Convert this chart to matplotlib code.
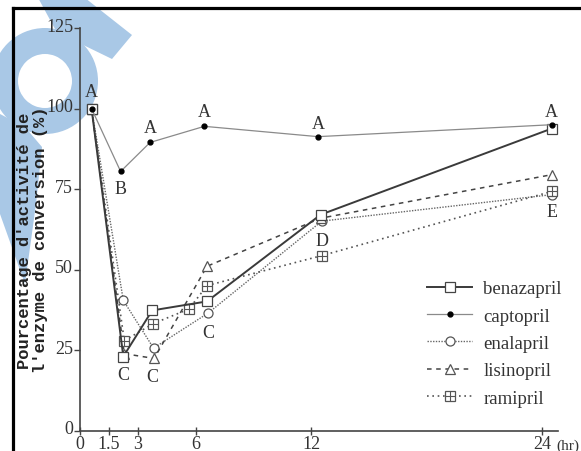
import matplotlib
matplotlib.use("Agg")
import matplotlib.pyplot as plt
import matplotlib.transforms as mtransforms
from matplotlib.patches import Wedge, Polygon
from matplotlib.lines import Line2D

# ---- data ----
x_ticks = [0, 1.5, 3, 6, 12, 24]
x_tick_labels = ["0", "1.5", "3", "6", "12", "24"]
y_ticks = [0, 25, 50, 75, 100, 125]
y_tick_labels = ["0", "25", "50", "75", "100", "125"]

t_benazapril = [0.6, 2.25, 3.75, 6.6, 12.5, 24.5]
v_benazapril = [100, 23.1, 37.4, 40.2, 67.1, 93.8]

t_captopril = [0.6, 2.11, 3.64, 6.46, 12.36, 24.5]
v_captopril = [100, 80.5, 89.5, 94.5, 91.3, 95.0]

t_enalapril = [0.6, 2.25, 3.82, 6.66, 12.56, 24.5]
v_enalapril = [100, 40.5, 25.7, 36.6, 65.1, 73.3]

t_lisinopril = [0.6, 2.3, 3.85, 6.6, 12.5, 24.5]
v_lisinopril = [100, 24.0, 22.5, 51.1, 66.0, 79.5]

t_ramipril = [0.6, 2.3, 3.8, 5.65, 6.6, 12.56, 24.5]
v_ramipril = [100, 28.0, 33.3, 37.8, 45.1, 54.4, 74.3]

letters = ["A", "B", "A", "A", "A", "A", "C", "C", "C", "D", "E"]
letter_t = [0.6, 2.11, 3.64, 6.46, 12.36, 24.5, 2.25, 3.75, 6.66, 12.56, 24.5]
letter_v = [105.3, 75.3, 94.0, 99.0, 95.5, 99.2, 17.6, 16.8, 30.5, 59.1, 68.0]

W, H = 581, 452
fig = plt.figure(figsize=(W / 100, H / 100), dpi=100)
pix = mtransforms.Affine2D().scale(1 / W, -1 / H).translate(0, 1) + fig.transFigure

# ---- watermark (light blue logo) ----
wm = "#a9c8e6"
fig.patches.append(Wedge((45, 82), 53, 0, 360, width=26, transform=pix,
                         facecolor=wm, edgecolor="none", zorder=-2))
fig.patches.append(Polygon([(36, -5), (80, -5), (132, 36), (112, 60), (75, 42), (55, 30)],
                           closed=True, transform=pix, facecolor=wm, edgecolor="none", zorder=-2))
fig.patches.append(Polygon([(0, 115), (25, 128), (42, 148), (36, 205), (25, 285), (0, 215)],
                           closed=True, transform=pix, facecolor=wm, edgecolor="none", zorder=-2))

# ---- black frame (partly cropped) ----
fig.add_artist(Line2D([12.5, 12.5], [460, 8.5], transform=pix, color="black", lw=2.3,
                      solid_capstyle="projecting"))
fig.add_artist(Line2D([12.5, 590], [8.5, 8.5], transform=pix, color="black", lw=2.3,
                      solid_capstyle="projecting"))

ax = fig.add_axes([80 / W, (H - 432) / H, 478 / W, 403 / H])
ax.patch.set_visible(False)
ax.set_xlim(0, 24.83)
ax.set_ylim(0, 125)

dark = "#333333"
serif = "Liberation Serif"

ax.plot(t_benazapril, v_benazapril, color="#3a3a3a", lw=1.4, ls="-", marker="s", ms=7,
        mfc="white", mec="#444444", mew=0.9, label="benazapril", clip_on=False, zorder=4)
ax.plot(t_captopril, v_captopril, color="#8a8a8a", lw=0.9, ls="-", marker="o", ms=3.5,
        mfc="black", mec="black", label="captopril", clip_on=False, zorder=5)
ax.plot(t_enalapril, v_enalapril, color="#666666", lw=1.0, ls=(0, (1, 1)), marker="o", ms=6.5,
        mfc="white", mec="#555555", mew=0.9, label="enalapril", clip_on=False, zorder=3)
ax.plot(t_lisinopril, v_lisinopril, color="#444444", lw=1.1, ls=(0, (3, 3)), marker="^", ms=6.5,
        mfc="white", mec="#555555", mew=0.9, label="lisinopril", clip_on=False, zorder=3)
ax.plot(t_ramipril, v_ramipril, color="#555555", lw=1.2, ls=(0, (1, 2.2)), marker="s", ms=6.5,
        mfc="white", mec="#555555", mew=0.9, label="ramipril", clip_on=False, zorder=3)
ax.plot(t_ramipril, v_ramipril, ls="none", marker="+", ms=6.5, mec="#555555", mew=0.8,
        clip_on=False, zorder=3.5)

for s, tx, vy in zip(letters, letter_t, letter_v):
    ax.text(tx, vy, s, ha="center", va="center", fontsize=13, family=serif, color=dark)

# ---- axes styling ----
for side in ("top", "right"):
    ax.spines[side].set_visible(False)
for side in ("left", "bottom"):
    ax.spines[side].set_color("#444444")
    ax.spines[side].set_linewidth(1.2)

ax.set_xticks(x_ticks)
ax.set_xticklabels(x_tick_labels, family=serif, fontsize=13, color=dark)
ax.set_yticks(y_ticks)
ax.set_yticklabels(y_tick_labels, family=serif, fontsize=13, color=dark)
ax.tick_params(axis="x", direction="inout", length=6, width=1, color="#444444", pad=0)
ax.tick_params(axis="y", direction="out", length=4, width=1, color="#444444", pad=1)
raise_t = mtransforms.ScaledTranslation(0, 4 / 100, fig.dpi_scale_trans)
for lab in ax.get_yticklabels():
    lab.set_transform(lab.get_transform() + raise_t)

fig.text(556 / W, 1 - 446 / H, "(hr)", ha="left", va="center", fontsize=11,
         family=serif, color=dark)

# ---- y label (two lines) ----
fig.text(25 / W, 1 - 241 / H, "Pourcentage d'activité de", rotation=90, ha="center",
         va="center", fontsize=12.3, family="Liberation Mono", fontweight="bold", color="#222222")
fig.text(41 / W, 1 - 240 / H, "l'enzyme de conversion (%)", rotation=90, ha="center",
         va="center", fontsize=12.3, family="Liberation Mono", fontweight="bold", color="#222222")

# ---- legend ----
h_ram_sq = Line2D([], [], color="#555555", lw=1.2, ls=(0, (1, 2.2)), marker="s", ms=6.5,
                  mfc="white", mec="#555555", mew=0.9)
h_ram_pl = Line2D([], [], ls="none", marker="+", ms=6.5, mec="#555555", mew=0.8)
handles, labels = ax.get_legend_handles_labels()
handles[4] = (h_ram_sq, h_ram_pl)
leg = ax.legend(handles, labels, loc="upper left",
                bbox_to_anchor=(427 / W, 1 - 281 / H), bbox_transform=fig.transFigure,
                frameon=False, borderpad=0, borderaxespad=0, handlelength=2.4,
                handletextpad=0.6, labelspacing=0.55, prop={"family": serif, "size": 13.5})
for txt in leg.get_texts():
    txt.set_color(dark)

fig.savefig("out.png", dpi=100)
